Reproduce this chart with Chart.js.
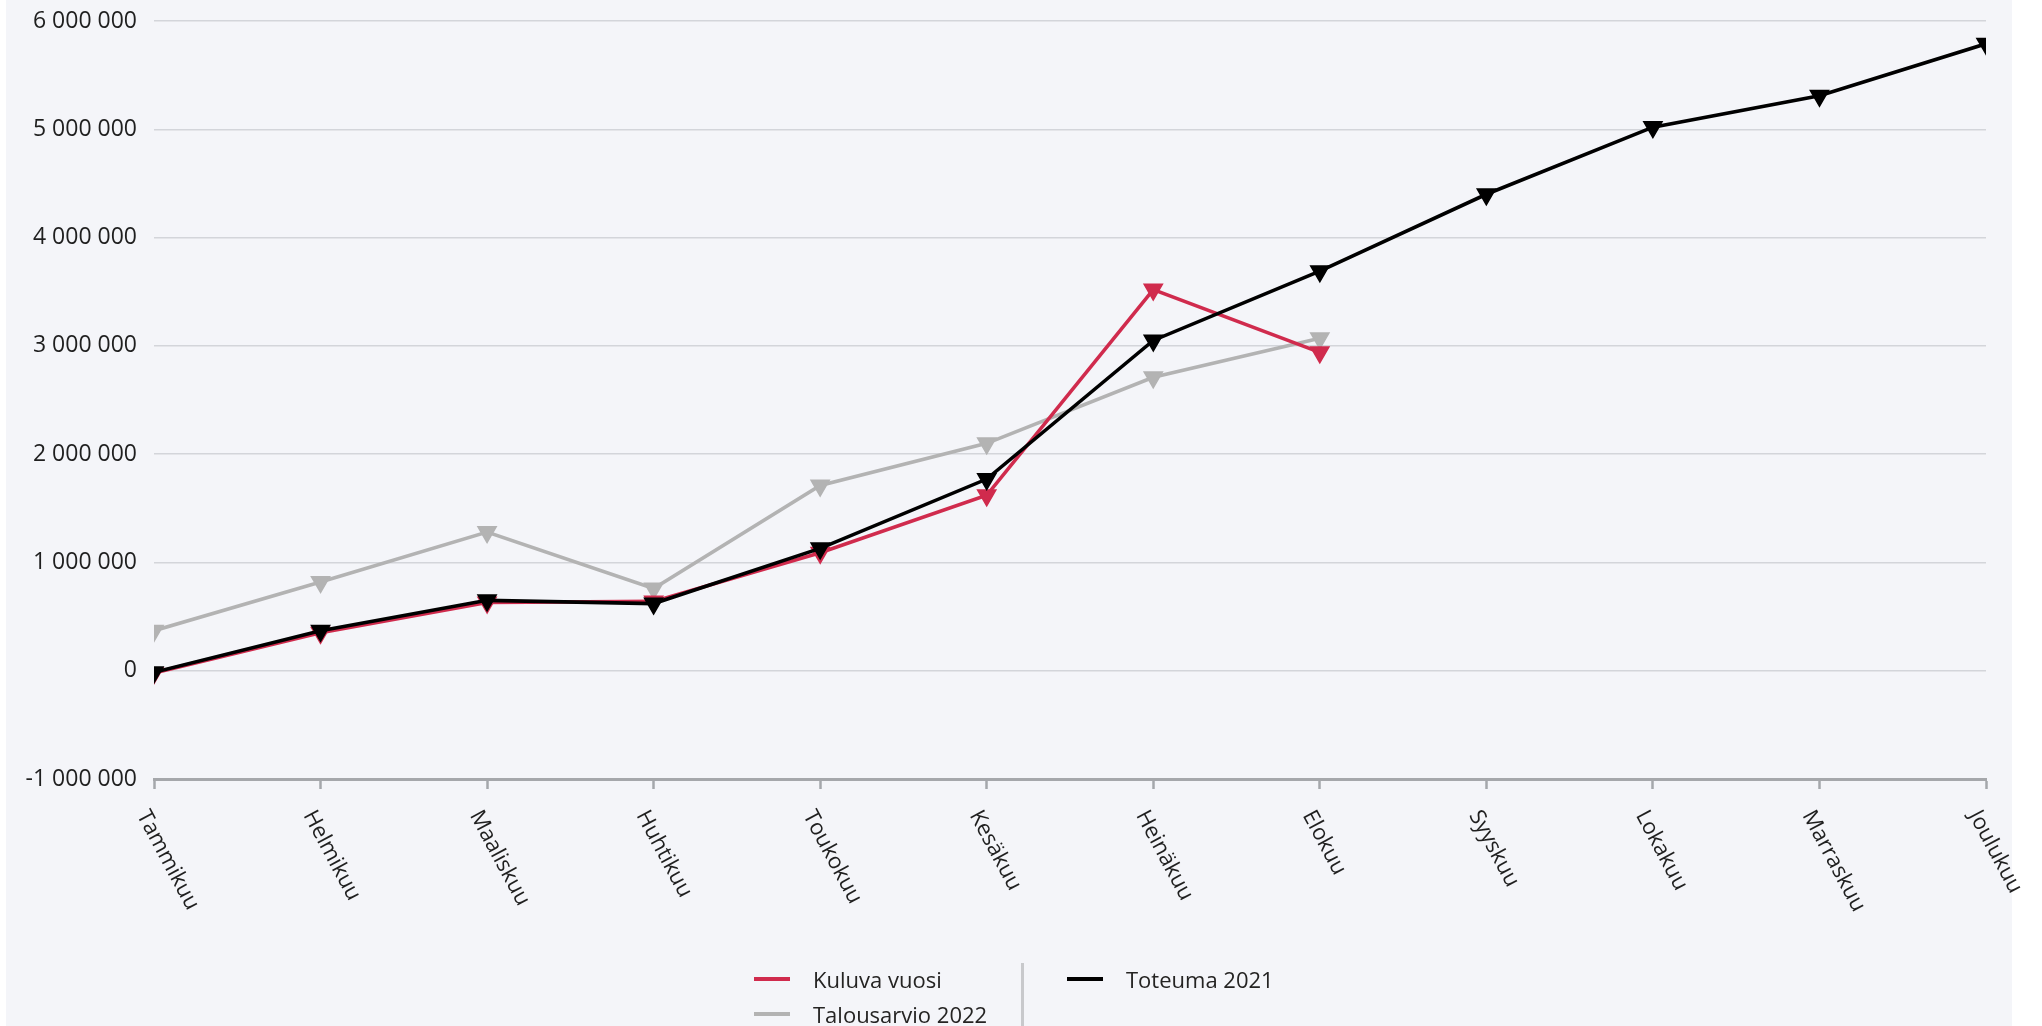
<!DOCTYPE html>
<html>
<head>
<meta charset="utf-8">
<script src="https://cdn.jsdelivr.net/npm/chart.js@4"></script>
<style>
  html, body { margin: 0; padding: 0; background: #ffffff; width: 2042px; height: 1026px; overflow: hidden; }
  #panel { position: absolute; left: 6px; top: 0; width: 2006px; height: 1026px; background: #f4f5f9; }
  #c { position: absolute; left: 0; top: 0; }
  .legend { position: absolute; font-family: "Open Sans", sans-serif; font-size: 22px; color: #252423; }
  .item { position: absolute; white-space: nowrap; height: 30px; line-height: 30px; }
  .sw { position: absolute; left: 0; top: 13px; width: 36px; height: 4px; }
  .lbl { position: absolute; left: 59px; top: 0; }
  #divider { position: absolute; left: 1021px; top: 963px; width: 3px; height: 70px; background: #c8c9cc; }
</style>
</head>
<body>
<div id="panel"></div>
<canvas id="c" width="2042" height="1026"></canvas>
<div id="legend"></div>
<div id="divider"></div>
<script>
const months = ["Tammikuu", "Helmikuu", "Maaliskuu", "Huhtikuu", "Toukokuu", "Kesäkuu",
                "Heinäkuu", "Elokuu", "Syyskuu", "Lokakuu", "Marraskuu", "Joulukuu"];
const kuluvaVuosi = [-20000, 350000, 630000, 640000, 1090000, 1620000, 3520000, 2940000];
const talousarvio2022 = [370000, 820000, 1280000, 760000, 1710000, 2100000, 2710000, 3070000];
const toteuma2021 = [-15000, 370000, 650000, 620000, 1130000, 1770000, 3050000, 3690000, 4400000, 5020000, 5310000, 5790000];
const yMin = -1000000, yMax = 6000000, yStep = 1000000;

const RED = '#d02b4d', GRAY = '#b3b3b3', BLACK = '#000000';
const FONT = '"Open Sans", sans-serif';

function fmt(v) {
  const s = String(Math.abs(v)).replace(/\B(?=(\d{3})+(?!\d))/g, ' ');
  return (v < 0 ? '-' : '') + s;
}

function ds(label, data, color, order) {
  return {
    label, data, order,
    borderColor: color, backgroundColor: color,
    borderWidth: 3.6,
    pointStyle: 'triangle', rotation: 180,
    pointRadius: 10.5, pointHoverRadius: 10.5,
    pointBorderWidth: 1.5, pointBorderColor: color, pointBackgroundColor: color,
    tension: 0, clip: 0
  };
}

const xLabelPlugin = {
  id: 'xLabels',
  afterDraw(chart) {
    const xs = chart.scales.x;
    const ctx = chart.ctx;
    ctx.save();
    ctx.font = '22px ' + FONT;
    ctx.fillStyle = '#1f1f1f';
    ctx.textAlign = 'left';
    ctx.textBaseline = 'middle';
    const ang = 62 * Math.PI / 180;
    months.forEach((m, i) => {
      const x = xs.getPixelForValue(i);
      ctx.save();
      ctx.translate(x - 12, 812);
      ctx.rotate(ang);
      ctx.fillText(m, 0, 0);
      ctx.restore();
    });
    ctx.restore();
  }
};

const chart = new Chart(document.getElementById('c'), {
  type: 'line',
  data: {
    labels: months,
    datasets: [
      ds('Kuluva vuosi', kuluvaVuosi, RED, 1),
      ds('Talousarvio 2022', talousarvio2022, GRAY, 2),
      ds('Toteuma 2021', toteuma2021, BLACK, 0)
    ]
  },
  options: {
    responsive: false,
    animation: false,
    devicePixelRatio: 1,
    layout: { padding: { left: 0, right: 56, top: 21, bottom: 0 } },
    plugins: { legend: { display: false }, tooltip: { enabled: false } },
    scales: {
      x: {
        offset: false,
        grid: { display: true, drawOnChartArea: false, drawTicks: true, tickLength: 10, tickColor: '#a5a7ab', tickWidth: 2.5 },
        border: { display: true, color: '#a5a7ab', width: 3 },
        ticks: { display: false, autoSkip: false },
        afterFit(s) { s.height = 1026 - 779; s.paddingLeft = 0; s.paddingRight = 0; }
      },
      y: {
        min: yMin, max: yMax,
        grid: {
          drawTicks: false, lineWidth: 1.5,
          color: (c) => (c.tick && c.tick.value === yMin) ? 'rgba(0,0,0,0)' : '#d3d5da'
        },
        border: { display: false },
        ticks: {
          stepSize: yStep, padding: 17,
          font: { family: FONT, size: 23 }, color: '#1f1f1f',
          callback: (v) => fmt(v)
        },
        afterFit(s) { s.width = 154; s.paddingTop = 0; s.paddingBottom = 0; }
      }
    }
  },
  plugins: [xLabelPlugin]
});

// HTML legend from dataset definitions
const legendPos = { 'Kuluva vuosi': [754, 964], 'Talousarvio 2022': [754, 999], 'Toteuma 2021': [1067, 964] };
const legend = document.getElementById('legend');
legend.className = 'legend';
chart.data.datasets.forEach(d => {
  const p = legendPos[d.label];
  const it = document.createElement('div');
  it.className = 'item';
  it.style.left = p[0] + 'px';
  it.style.top = p[1] + 'px';
  const sw = document.createElement('div');
  sw.className = 'sw';
  sw.style.background = d.borderColor;
  const lb = document.createElement('div');
  lb.className = 'lbl';
  lb.textContent = d.label;
  it.appendChild(sw); it.appendChild(lb);
  legend.appendChild(it);
});
</script>
</body>
</html>
